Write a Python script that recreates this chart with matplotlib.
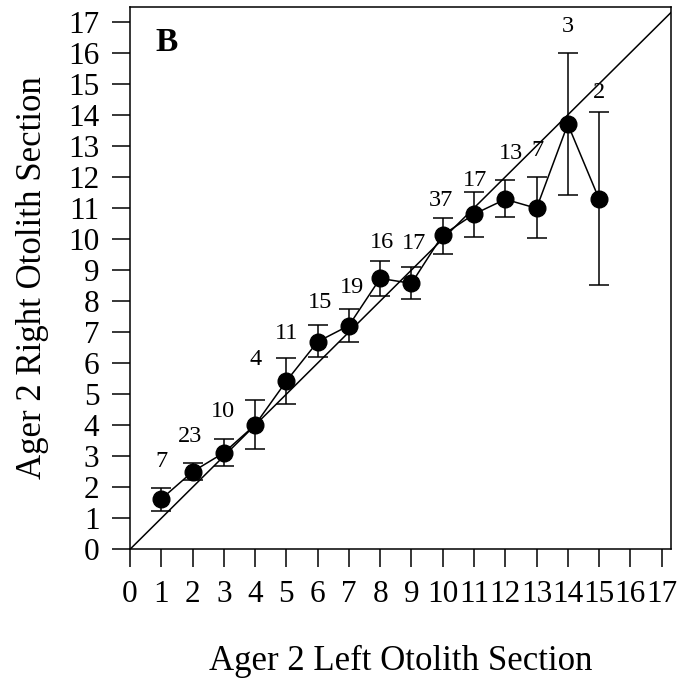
import matplotlib
matplotlib.use("Agg")
import matplotlib.pyplot as plt

# ---- data ----
left_age = [1, 2, 3, 4, 5, 6, 7, 8, 9, 10, 11, 12, 13, 14, 15]
right_mean = [1.62, 2.50, 3.11, 4.01, 5.42, 6.69, 7.21, 8.73, 8.57, 10.13, 10.80, 11.28, 10.99, 13.70, 11.29]
err_upper = [1.97, 2.77, 3.54, 4.81, 6.15, 7.23, 7.73, 9.30, 9.11, 10.69, 11.52, 11.90, 12.01, 16.00, 14.10]
err_lower = [1.24, 2.23, 2.68, 3.22, 4.68, 6.19, 6.69, 8.16, 8.06, 9.52, 10.05, 10.70, 10.02, 11.42, 8.52]
sample_n = ["7", "23", "10", "4", "11", "15", "19", "16", "17", "37", "17", "13", "7", "3", "2"]
tick_values = list(range(0, 18))

# ---- layout / style (not data) ----
label_dy_pt = [19, 19, 20, 29, 18, 16, 16, 13, 17, 12, 8, 19, 19, 19, 14]
label_dx_pt = [0, -2, -1, 0, 0, 2, 2, 1, 2, -1, 1, 4, 1, 0, 0]

plt.rcParams['font.family'] = ['Liberation Serif', 'DejaVu Serif']
fig = plt.figure(figsize=(6.79, 6.83), dpi=100)
ax = fig.add_axes([130/679, 133.7/683, 541/679, 542.4/683])

ax.plot([0, 20], [0, 20], color='black', lw=1.1, zorder=1)
yerr = [[m - lo for m, lo in zip(right_mean, err_lower)],
        [hi - m for m, hi in zip(right_mean, err_upper)]]
ax.errorbar(left_age, right_mean, yerr=yerr, fmt='o', color='black',
            ecolor='black', elinewidth=1.1, capsize=7, capthick=1.1,
            markersize=12, lw=1.1, ls='-', zorder=3)

for x, hi, n, dy, dx in zip(left_age, err_upper, sample_n, label_dy_pt, label_dx_pt):
    ax.annotate(n, (x, hi), xytext=(dx, dy), textcoords='offset points',
                ha='center', va='center', fontsize=17.5)

ax.text(0.068, 0.935, "B", transform=ax.transAxes, fontsize=24,
        fontweight='bold', ha='center', va='center')

ax.set_xlim(0, 17.3)
ax.set_ylim(0, 17.48)
ax.set_xticks(tick_values)
ax.set_yticks(tick_values)
ax.set_xticklabels([str(t) for t in tick_values])
ax.set_yticklabels([str(t) for t in tick_values])
ax.tick_params(axis='both', direction='out', length=13, width=1.1,
               labelsize=22.5)
ax.tick_params(axis='x', pad=9)
ax.tick_params(axis='y', pad=9)
for s in ax.spines.values():
    s.set_linewidth(1.1)

ax.set_xlabel("Ager 2 Left Otolith Section", fontsize=25, labelpad=26)
ax.set_ylabel("Ager 2 Right Otolith Section", fontsize=25, labelpad=14)

fig.savefig("out.png", dpi=100)
